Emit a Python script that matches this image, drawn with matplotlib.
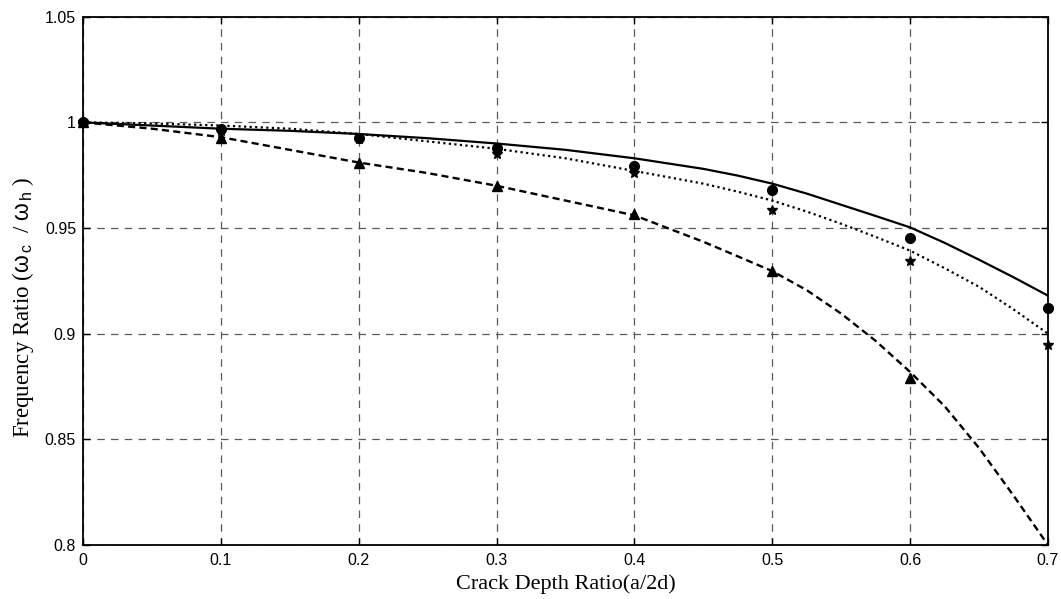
import numpy as np
import matplotlib.pyplot as plt

# curve data
x_curve = [0.0, 0.05, 0.1, 0.15, 0.2, 0.25, 0.3, 0.35, 0.4, 0.45, 0.475, 0.5, 0.525,
           0.55, 0.575, 0.6, 0.625, 0.65, 0.675, 0.7]
solid_curve = [1.0, 0.9985, 0.997, 0.996, 0.9945, 0.9925, 0.990, 0.987, 0.983, 0.978, 0.9748, 0.971,
               0.9663, 0.961, 0.9557, 0.9503, 0.943, 0.935, 0.9267, 0.918]
dotted_curve = [1.0, 0.9995, 0.9985, 0.997, 0.9945, 0.991, 0.9875, 0.983, 0.977, 0.971, 0.9672, 0.963,
                0.9578, 0.952, 0.9458, 0.9393, 0.931, 0.9222, 0.9115, 0.900]
dashed_curve = [1.0, 0.997, 0.993, 0.987, 0.981, 0.976, 0.970, 0.963, 0.956, 0.9435, 0.9366, 0.9296,
                0.9206, 0.9095, 0.8966, 0.8819, 0.8657, 0.8459, 0.8234, 0.800]

# marker data
x_pts = [0.0, 0.1, 0.2, 0.3, 0.4, 0.5, 0.6, 0.7]
circles = [1.0, 0.9967, 0.9924, 0.9877, 0.9795, 0.968, 0.9454, 0.9122]
stars = [1.0, 0.996, 0.992, 0.9848, 0.976, 0.9585, 0.9345, 0.8946]
x_tri = [0.0, 0.1, 0.2, 0.3, 0.4, 0.5, 0.6]
triangles = [1.0, 0.9925, 0.981, 0.970, 0.9564, 0.9297, 0.879]

x_ticks = [0, 0.1, 0.2, 0.3, 0.4, 0.5, 0.6, 0.7]
x_ticklabels = ['0', '0.1', '0.2', '0.3', '0.4', '0.5', '0.6', '0.7']
y_ticks = [0.8, 0.85, 0.9, 0.95, 1.0, 1.05]
y_ticklabels = ['0.8', '0.85', '0.9', '0.95', '1', '1.05']

plt.rcParams['mathtext.fontset'] = 'custom'
plt.rcParams['mathtext.rm'] = 'Liberation Sans'
plt.rcParams['mathtext.it'] = 'Liberation Sans'

fig = plt.figure(figsize=(10.61, 5.99), dpi=100)
ax = fig.add_axes([0.0782, 0.0902, 0.9095, 0.8819])

ax.grid(True, color='#5a5a5a', linestyle=(0, (6, 5)), linewidth=0.9)
ax.set_axisbelow(True)

ax.plot(x_curve, solid_curve, color='black', linestyle='-', linewidth=1.6)
ax.plot(x_curve, dotted_curve, color='black', linestyle=(0, (1, 1.5)), linewidth=1.6)
ax.plot(x_curve, dashed_curve, color='black', linestyle=(0, (3, 1.8)), linewidth=1.7)

ax.plot(x_pts, circles, 'o', color='black', markersize=7, clip_on=False)
ax.plot(x_pts, stars, '*', color='black', markersize=7, clip_on=False)
ax.plot(x_tri, triangles, '^', color='black', markersize=7, clip_on=False)

ax.set_xlim(0, 0.7)
ax.set_ylim(0.8, 1.05)
ax.set_xticks(x_ticks)
ax.set_xticklabels(x_ticklabels)
ax.set_yticks(y_ticks)
ax.set_yticklabels(y_ticklabels)

ax.tick_params(direction='in', top=True, right=True, length=5, width=1,
               labelsize=11.5)
ax.tick_params(axis='x', pad=6)
ax.tick_params(axis='y', pad=5)
for lbl in ax.get_xticklabels() + ax.get_yticklabels():
    lbl.set_family('Liberation Sans')
for s in ax.spines.values():
    s.set_linewidth(1.3)

ax.set_xlabel('Crack Depth Ratio(a/2d)', family='Liberation Serif', fontsize=16, labelpad=4)
ax.set_ylabel(r'Frequency Ratio ($\omega_{\,c}$  / $\omega_{\,h}$ )', family='Liberation Serif',
              fontsize=16.5)
ax.yaxis.set_label_coords(-0.049, 0.45)

fig.savefig('out.png', dpi=100)
